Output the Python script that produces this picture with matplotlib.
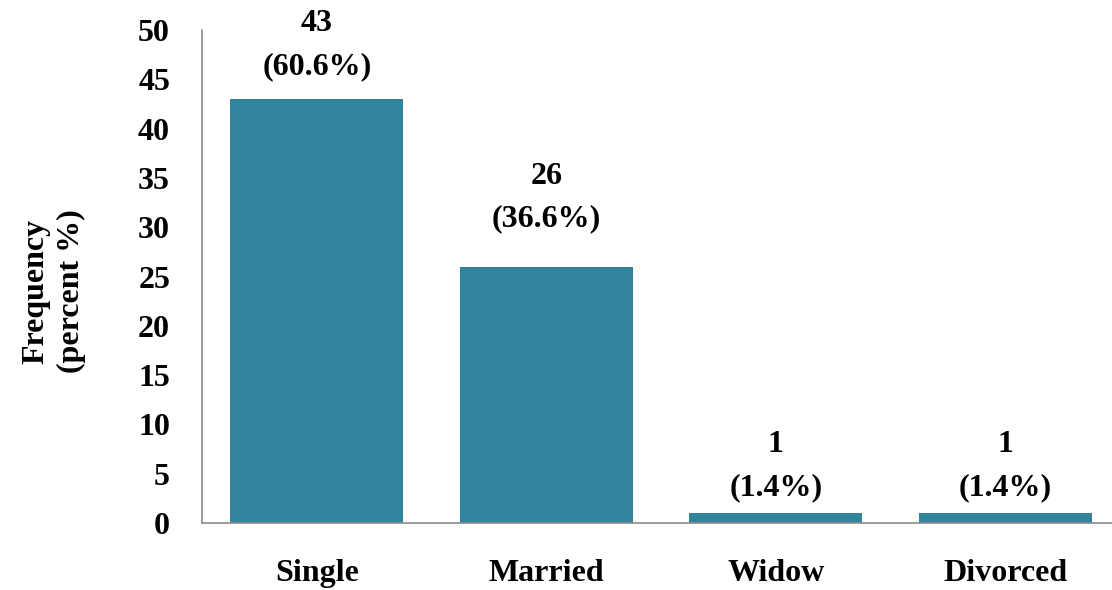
import matplotlib
matplotlib.use("Agg")
import matplotlib.pyplot as plt

categories = ["Single", "Married", "Widow", "Divorced"]
counts = [43, 26, 1, 1]
percents = [60.6, 36.6, 1.4, 1.4]
yticks = [0, 5, 10, 15, 20, 25, 30, 35, 40, 45, 50]

# label offset above each bar (points), as laid out in the original
label_pad = [13, 24, 8, 8]

plt.rcParams['font.family'] = ['Liberation Serif', 'DejaVu Serif']
plt.rcParams['font.weight'] = 'bold'

fig = plt.figure(figsize=(11.12, 5.9), dpi=100)
ax = fig.add_axes([202 / 1112, 67 / 590, 918 / 1112, 493 / 590])

x = range(len(categories))
ax.bar(x, counts, width=0.755, color="#31849B")

for i, (c, p) in enumerate(zip(counts, percents)):
    ax.annotate(f"{c}\n({p}%)", (i, c), xytext=(0, label_pad[i]),
                textcoords="offset points", ha="center", va="bottom",
                fontsize=23, fontweight="bold", linespacing=1.62)

ax.set_xlim(-0.5, 3.5)
ax.set_ylim(0, 50)
ax.set_xticks(list(x))
ax.set_xticklabels(categories)
ax.set_yticks(yticks)
ax.tick_params(axis="both", length=0, labelsize=23)
ax.tick_params(axis="x", pad=26)
ax.tick_params(axis="y", pad=23)
for lab in ax.get_xticklabels() + ax.get_yticklabels():
    lab.set_fontweight("bold")

for s in ["top", "right"]:
    ax.spines[s].set_visible(False)
for s in ["left", "bottom"]:
    ax.spines[s].set_color("#8c8c8c")
    ax.spines[s].set_linewidth(1.2)

ax.set_ylabel("Frequency\n(percent %)", fontsize=23, fontweight="bold",
              linespacing=1.3)
ax.yaxis.set_label_coords(-0.126, 0.47)

fig.savefig("out.png", dpi=100)
